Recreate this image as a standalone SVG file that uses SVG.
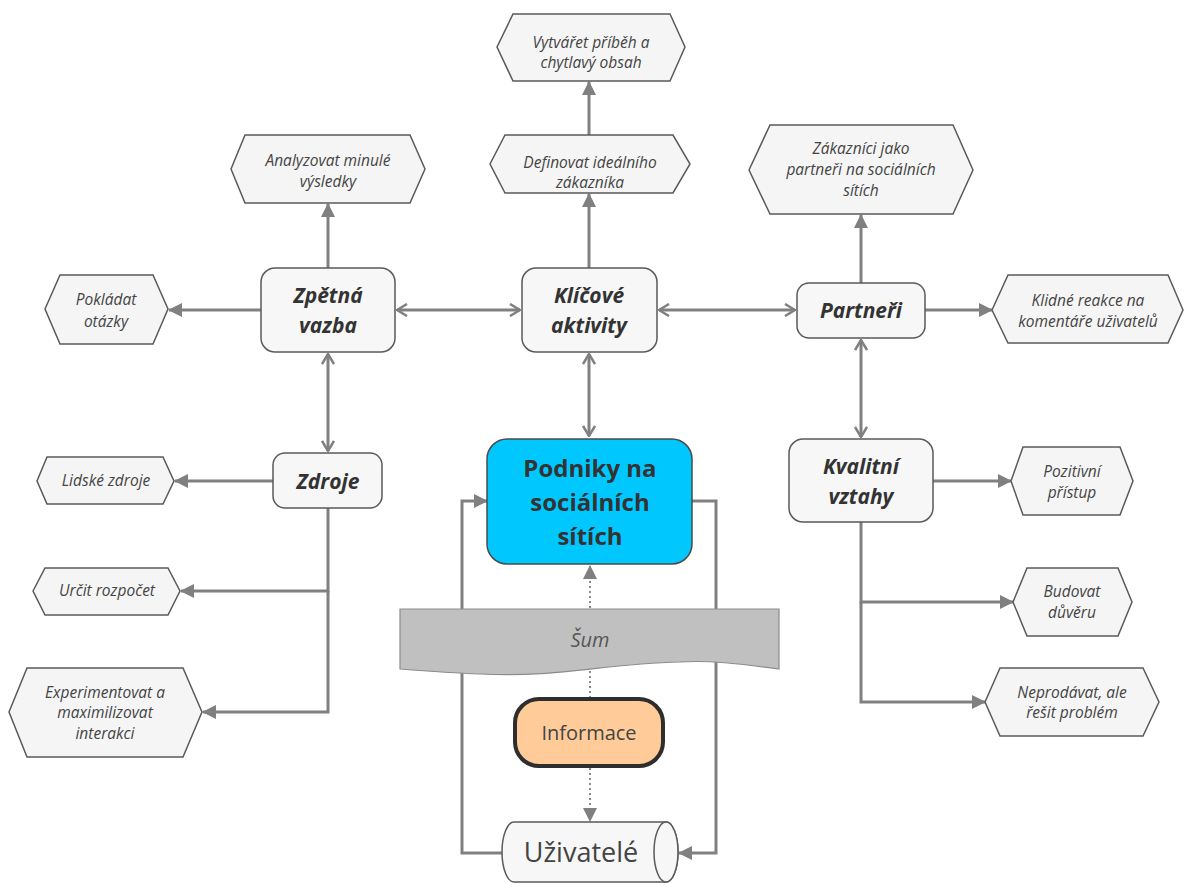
<svg xmlns="http://www.w3.org/2000/svg" width="1184" height="883" viewBox="0 0 1184 883">
  <defs>
    <style>
      .box { fill: #f7f7f7; stroke: #5a5a5a; stroke-width: 1.5; }
      .hex { fill: #f5f5f5; stroke: #5a5a5a; stroke-width: 1.5; }
      .title { font-family: "Open Sans", "Noto Sans", "DejaVu Sans", sans-serif; font-weight: bold; font-style: italic; font-size: 21px; fill: #333; text-anchor: middle; }
      .leaf { font-family: "Open Sans", "Noto Sans", "DejaVu Sans", sans-serif; font-style: italic; font-size: 15.5px; fill: #444; text-anchor: middle; }
      .link { fill: none; stroke: #808080; stroke-width: 3; }
      .open { fill: none; stroke: #808080; stroke-width: 3; marker-start: url(#openHead); marker-end: url(#openHead); }
      .solid { fill: none; stroke: #808080; stroke-width: 3; marker-end: url(#fillHead); }
      .dots { fill: none; stroke: #8a8a8a; stroke-width: 2; stroke-dasharray: 2 3; marker-end: url(#fillHead); }
    </style>
    <marker id="fillHead" viewBox="0 0 14 14" refX="13" refY="7" markerWidth="14" markerHeight="14" markerUnits="userSpaceOnUse" orient="auto">
      <path d="M0,0 L14,7 L0,14 z" fill="#808080"/>
    </marker>
    <marker id="openHead" viewBox="0 0 12 14" refX="11" refY="7" markerWidth="12" markerHeight="14" markerUnits="userSpaceOnUse" orient="auto-start-reverse">
      <path d="M1,1 L11,7 L1,13" fill="none" stroke="#808080" stroke-width="2.5"/>
    </marker>
  </defs>

  <rect width="1184" height="883" fill="#ffffff"/>

  <!-- connectors -->
  <g id="connectors">
    <!-- two-way links between the hubs -->
    <path class="open" d="M397,310 L520,310"/>
    <path class="open" d="M659,310 L795,310"/>
    <path class="open" d="M589,354 L589,436"/>
    <path class="open" d="M328,354 L328,451"/>
    <path class="open" d="M861,340 L861,437"/>

    <!-- Zpětná vazba -->
    <path class="solid" d="M328,268 L328,204"/>
    <path class="solid" d="M261,310 L169,310"/>
    <!-- Klíčové aktivity -->
    <path class="solid" d="M589,268 L589,194"/>
    <path class="solid" d="M589,135 L589,82"/>
    <!-- Partneři -->
    <path class="solid" d="M861,283 L861,215"/>
    <path class="solid" d="M925,310 L992,310"/>
    <!-- Zdroje -->
    <path class="solid" d="M273,481 L175,481"/>
    <path class="solid" d="M328,508 L328,591 L181,591"/>
    <path class="solid" d="M328,591 L328,712 L203,712"/>
    <!-- Kvalitní vztahy -->
    <path class="solid" d="M933,481 L1011,481"/>
    <path class="solid" d="M861,522 L861,602 L1013,602"/>
    <path class="solid" d="M861,602 L861,702 L985,702"/>

    <!-- loop between the business node and the users -->
    <path class="solid" d="M692,501 L716,501 L716,853 L679,853"/>
    <path class="solid" d="M502,853 L462,853 L462,501 L487,501"/>

    <!-- information flow -->
    <path class="dots" d="M590,698 L590,566"/>
    <path class="dots" d="M590,768 L590,821"/>
  </g>

  <!-- noise band -->
  <g id="sum">
    <path d="M400,609 L779,609 L779,669 C740,664 710,660 680,662 C600,664 560,678 480,674 C450,673 425,671 400,669 Z" fill="#c0c0c0" stroke="#8c8c8c" stroke-width="1.2"/>
    <text x="590" y="647" font-family="'Open Sans', 'Noto Sans', sans-serif" font-style="italic" font-size="20" fill="#555" text-anchor="middle">Šum</text>
  </g>

  <!-- main nodes -->
  <g id="podniky">
    <rect x="487" y="439" width="205" height="125" rx="20" fill="#00c8ff" stroke="#4a4a4a" stroke-width="1.5"/>
    <g font-family="'Open Sans', 'Noto Sans', sans-serif" font-weight="bold" font-size="24" fill="#333" text-anchor="middle">
      <text x="590" y="477">Podniky na</text>
      <text x="590" y="511">sociálních</text>
      <text x="590" y="545">sítích</text>
    </g>
  </g>

  <g id="zpetna-vazba">
    <rect class="box" x="261" y="268" width="134" height="84" rx="14"/>
    <text class="title" x="328" y="303">Zpětná</text>
    <text class="title" x="328" y="333">vazba</text>
  </g>

  <g id="klicove-aktivity">
    <rect class="box" x="522" y="268" width="135" height="84" rx="14"/>
    <text class="title" x="589" y="303">Klíčové</text>
    <text class="title" x="589" y="333">aktivity</text>
  </g>

  <g id="partneri">
    <rect class="box" x="797" y="283" width="128" height="55" rx="12"/>
    <text class="title" x="861" y="318">Partneři</text>
  </g>

  <g id="zdroje">
    <rect class="box" x="273" y="453" width="109" height="55" rx="12"/>
    <text class="title" x="328" y="489">Zdroje</text>
  </g>

  <g id="kvalitni-vztahy">
    <rect class="box" x="789" y="439" width="144" height="83" rx="14"/>
    <text class="title" x="861" y="474">Kvalitní</text>
    <text class="title" x="861" y="504">vztahy</text>
  </g>

  <g id="informace">
    <rect x="515" y="699" width="148" height="67" rx="24" fill="#ffcc99" stroke="#2e2e2e" stroke-width="4"/>
    <text x="589" y="740" font-family="'Open Sans', 'Noto Sans', sans-serif" font-size="20" fill="#444" text-anchor="middle">Informace</text>
  </g>

  <g id="uzivatele">
    <path d="M514,822 L666,822 A12,30 0 0 1 666,882 L514,882 A12,30 0 0 1 514,822 Z" fill="#f7f7f7" stroke="#5a5a5a" stroke-width="1.5"/>
    <ellipse cx="666" cy="852" rx="12" ry="30" fill="#f7f7f7" stroke="#5a5a5a" stroke-width="1.5"/>
    <text x="581" y="862" font-family="'Open Sans', 'Noto Sans', sans-serif" font-size="27" fill="#444" text-anchor="middle">Uživatelé</text>
  </g>

  <!-- leaf nodes -->
  <g id="vytvaret">
    <polygon class="hex" points="497,47 513,14 670,14 685,47 670,81 513,81"/>
    <text class="leaf" x="591" y="48">Vytvářet příběh a</text>
    <text class="leaf" x="591" y="68">chytlavý obsah</text>
  </g>

  <g id="definovat">
    <polygon class="hex" points="490,164 505,135 673,135 690,164 673,193 505,193"/>
    <text class="leaf" x="590" y="168">Definovat ideálního</text>
    <text class="leaf" x="590" y="188">zákazníka</text>
  </g>

  <g id="analyzovat">
    <polygon class="hex" points="231,169 245,135 410,135 425,169 410,203 245,203"/>
    <text class="leaf" x="328" y="166">Analyzovat minulé</text>
    <text class="leaf" x="328" y="187">výsledky</text>
  </g>

  <g id="zakaznici">
    <polygon class="hex" points="749,170 770,125 953,125 973,170 953,214 770,214"/>
    <text class="leaf" x="861" y="154">Zákazníci jako</text>
    <text class="leaf" x="861" y="175">partneři na sociálních</text>
    <text class="leaf" x="861" y="196">sítích</text>
  </g>

  <g id="klidne">
    <polygon class="hex" points="992,310 1008,275 1168,275 1183,310 1168,343 1008,343"/>
    <text class="leaf" x="1088" y="306">Klidné reakce na</text>
    <text class="leaf" x="1088" y="327">komentáře uživatelů</text>
  </g>

  <g id="pokladat">
    <polygon class="hex" points="45,309 60,275 153,275 168,309 153,344 60,344"/>
    <text class="leaf" x="106" y="305">Pokládat</text>
    <text class="leaf" x="106" y="327">otázky</text>
  </g>

  <g id="lidske">
    <polygon class="hex" points="37,481 47,457 163,457 174,481 163,504 47,504"/>
    <text class="leaf" x="106" y="486">Lidské zdroje</text>
  </g>

  <g id="urcit">
    <polygon class="hex" points="33,591 45,568 168,568 180,591 168,615 45,615"/>
    <text class="leaf" x="107" y="596">Určit rozpočet</text>
  </g>

  <g id="experimentovat">
    <polygon class="hex" points="9,712 27,668 183,668 202,712 183,757 27,757"/>
    <text class="leaf" x="105" y="698">Experimentovat a</text>
    <text class="leaf" x="105" y="718">maximilizovat</text>
    <text class="leaf" x="105" y="739">interakci</text>
  </g>

  <g id="pozitivni">
    <polygon class="hex" points="1011,481 1023,447 1120,447 1133,481 1120,515 1023,515"/>
    <text class="leaf" x="1072" y="477">Pozitivní</text>
    <text class="leaf" x="1072" y="498">přístup</text>
  </g>

  <g id="budovat">
    <polygon class="hex" points="1013,602 1027,568 1118,568 1132,602 1118,636 1027,636"/>
    <text class="leaf" x="1072" y="597">Budovat</text>
    <text class="leaf" x="1072" y="618">důvěru</text>
  </g>

  <g id="neprodavat">
    <polygon class="hex" points="985,702 1000,668 1143,668 1159,702 1143,736 1000,736"/>
    <text class="leaf" x="1072" y="698">Neprodávat, ale</text>
    <text class="leaf" x="1072" y="718">řešit problém</text>
  </g>
</svg>
